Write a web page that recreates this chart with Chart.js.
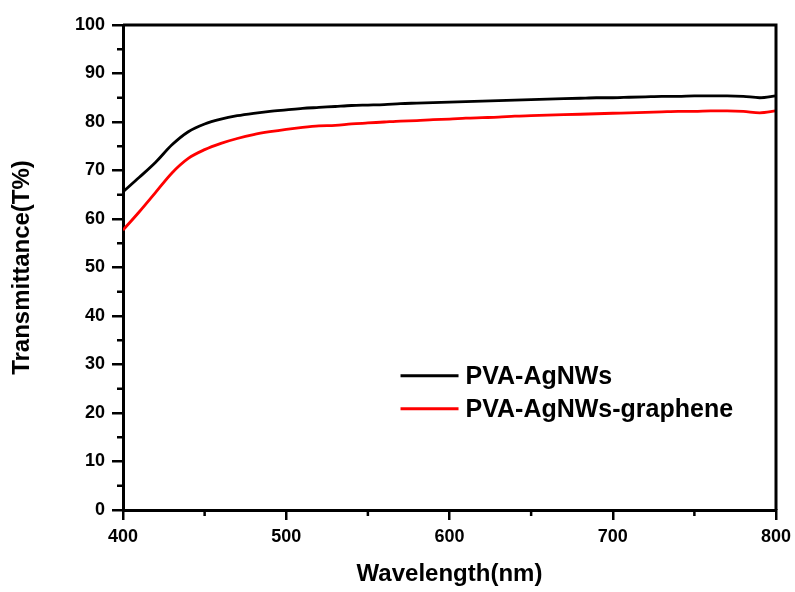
<!DOCTYPE html>
<html>
<head>
<meta charset="utf-8">
<script src="https://cdn.jsdelivr.net/npm/chart.js@4"></script>
<style>
  html, body { margin: 0; padding: 0; background: #fff; }
  canvas { display: block; }
</style>
</head>
<body>
<canvas id="graphTrans" width="795" height="592"></canvas>
<script>
const wavelength = [400, 410, 420, 430, 440, 450, 460, 470, 480, 490, 500, 510, 520, 530, 540, 550, 560, 570, 580, 590, 600,
  610, 620, 630, 640, 650, 660, 670, 680, 690, 700, 710, 720, 730, 740, 750, 760, 770, 780, 790, 800]
const agnws = [65.6, 68.6, 71.7, 75.3, 78.0, 79.6, 80.6, 81.3, 81.8, 82.2, 82.5, 82.8, 83.0, 83.2, 83.4, 83.5, 83.6, 83.8, 83.9, 84.0, 84.1,
  84.2, 84.3, 84.4, 84.5, 84.6, 84.7, 84.8, 84.9, 85.0, 85.0, 85.1, 85.2, 85.3, 85.3, 85.4, 85.4, 85.4, 85.3, 85.0, 85.4]
const agnwsGraphene = [57.7, 61.5, 65.5, 69.5, 72.5, 74.3, 75.6, 76.6, 77.4, 78.0, 78.5, 78.9, 79.2, 79.3, 79.6, 79.8, 80.0, 80.2, 80.3, 80.5, 80.6,
  80.8, 80.9, 81.0, 81.2, 81.3, 81.4, 81.5, 81.6, 81.7, 81.8, 81.9, 82.0, 82.1, 82.2, 82.2, 82.3, 82.3, 82.2, 81.9, 82.3]
const seriesNames = ['PVA-AgNWs', 'PVA-AgNWs-graphene']
const minorX = [450, 550, 650, 750]
const minorY = [5, 15, 25, 35, 45, 55, 65, 75, 85, 95]

const toPoints = values => values.map((v, i) => ({ x: wavelength[i], y: v }))

// frame, minor ticks and the legend inside the plot
const extras = {
  id: 'extras',
  afterDraw(chart) {
    const c = chart.ctx
    const a = chart.chartArea
    const xs = chart.scales.x
    const ys = chart.scales.y
    c.save()
    c.strokeStyle = '#000'
    c.lineWidth = 3
    c.beginPath()
    c.moveTo(a.left, a.top)
    c.lineTo(a.right, a.top)
    c.lineTo(a.right, a.bottom)
    c.stroke()
    c.lineWidth = 2.5
    c.beginPath()
    minorX.forEach(v => {
      const px = xs.getPixelForValue(v)
      c.moveTo(px, a.bottom)
      c.lineTo(px, a.bottom + 6)
    })
    minorY.forEach(v => {
      const py = ys.getPixelForValue(v)
      c.moveTo(a.left, py)
      c.lineTo(a.left - 6, py)
    })
    c.stroke()

    const lx = a.left + (a.right - a.left) * 0.425
    const ly = a.top + (a.bottom - a.top) * 0.723
    c.font = 'bold 25px "Liberation Sans", Arial, sans-serif'
    c.textBaseline = 'middle'
    chart.data.datasets.forEach((ds, i) => {
      const y = ly + i * 33
      c.strokeStyle = ds.borderColor
      c.lineWidth = 3
      c.beginPath()
      c.moveTo(lx, y)
      c.lineTo(lx + 58, y)
      c.stroke()
      c.fillStyle = '#000'
      c.fillText(ds.label, lx + 65, y + 1)
    })
    c.restore()
  }
}

const tickFont = { family: '"Liberation Sans", Arial, sans-serif', size: 18, weight: 'bold' }
const titleFont = { family: '"Liberation Sans", Arial, sans-serif', size: 24, weight: 'bold' }

const ctx = document.getElementById('graphTrans')
let config = {
  type: 'line',
  data: {
    datasets: [{
      label: seriesNames[0],
      data: toPoints(agnws),
      borderColor: '#000000',
      borderWidth: 2.8,
      pointRadius: 0,
      cubicInterpolationMode: 'monotone'
    }, {
      label: seriesNames[1],
      data: toPoints(agnwsGraphene),
      borderColor: '#ff0000',
      borderWidth: 2.8,
      pointRadius: 0,
      cubicInterpolationMode: 'monotone'
    }]
  },
  options: {
    responsive: false,
    animation: false,
    layout: { padding: { left: 0, top: 25, right: 19, bottom: 0 } },
    plugins: {
      legend: { display: false },
      tooltip: { enabled: false }
    },
    scales: {
      x: {
        type: 'linear',
        min: 400,
        max: 800,
        afterFit: scale => {
          scale.height = 82
          scale.paddingRight = 0
          scale.paddingLeft = 0
        },
        ticks: { stepSize: 100, color: '#000', font: tickFont, padding: 6 },
        grid: { drawOnChartArea: false, color: '#000', lineWidth: 2.5, tickLength: 10 },
        border: { color: '#000', width: 3 },
        title: { display: true, text: 'Wavelength(nm)', color: '#000', font: titleFont, padding: { top: 0, bottom: 3 } }
      },
      y: {
        min: 0,
        max: 100,
        afterFit: scale => { scale.width = 123 },
        ticks: { stepSize: 10, color: '#000', font: tickFont, padding: 7 },
        grid: { drawOnChartArea: false, color: '#000', lineWidth: 2.5, tickLength: 11 },
        border: { color: '#000', width: 3 },
        title: { display: true, text: 'Transmittance(T%)', color: '#000', font: titleFont, padding: { top: 8, bottom: 0 } }
      }
    }
  },
  plugins: [extras]
}
let chartTrans = new Chart(ctx, config)
</script>
</body>
</html>
